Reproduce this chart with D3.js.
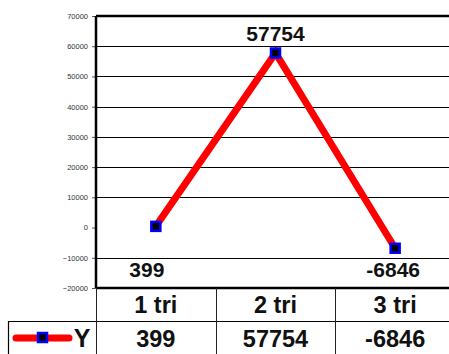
<!DOCTYPE html>
<html>
<head>
<meta charset="utf-8">
<script src="https://cdn.jsdelivr.net/npm/d3@7"></script>
<style>
  body { margin: 0; background: #fff; }
  svg { display: block; }
</style>
</head>
<body>
<div id="chart"></div>
<script>
// data
var categories = ["1 tri", "2 tri", "3 tri"];
var values = [399, 57754, -6846];
var seriesName = "Y";
var yTicks = [-20000, -10000, 0, 10000, 20000, 30000, 40000, 50000, 60000, 70000];

// dimensions
var svgWidth = 449, svgHeight = 354;
var margin = { top: 16, left: 96 };
var plotRight = 455;           // plot runs past the right edge, like the source
var plotBottom = 288;
var rowH = 33;
var font = "Arial, Liberation Sans, sans-serif";

var svg = d3.select("#chart")
  .append("svg")
    .attr("width", svgWidth)
    .attr("height", svgHeight);

var x = d3.scaleBand()
  .domain(categories)
  .range([margin.left, plotRight]);

var y = d3.scaleLinear()
  .domain([-20000, 70000])
  .range([plotBottom, margin.top]);

// gridlines
svg.append("g")
  .selectAll("line")
  .data(yTicks.filter(d => d > -20000 && d < 70000 && d != 0))
  .enter().append("line")
    .attr("x1", margin.left).attr("x2", plotRight)
    .attr("y1", d => Math.round(y(d)) + 0.5).attr("y2", d => Math.round(y(d)) + 0.5)
    .attr("stroke", "#000").attr("stroke-width", 1);

// y axis
var yAxis = svg.append("g")
  .attr("transform", "translate(" + margin.left + ",0)")
  .call(d3.axisLeft(y).tickValues(yTicks).tickSize(4).tickPadding(4).tickFormat(d3.format("d")));
yAxis.select(".domain").remove();
yAxis.selectAll("text")
  .attr("font-family", font)
  .attr("font-size", 7.5)
  .attr("fill", "#333");
yAxis.selectAll(".tick line").attr("stroke", "#555");

// plot frame
svg.append("line")
  .attr("x1", margin.left).attr("x2", margin.left)
  .attr("y1", margin.top).attr("y2", plotBottom)
  .attr("stroke", "#000").attr("stroke-width", 2.5);
svg.append("line")
  .attr("x1", margin.left).attr("x2", plotRight)
  .attr("y1", margin.top).attr("y2", margin.top)
  .attr("stroke", "#000").attr("stroke-width", 2.5);
svg.append("line")
  .attr("x1", margin.left).attr("x2", plotRight)
  .attr("y1", plotBottom).attr("y2", plotBottom)
  .attr("stroke", "#000").attr("stroke-width", 2.5);

// line
var cx = d => x.bandwidth() / 2 + x(d);
svg.append("path")
  .datum(values)
  .attr("d", d3.line()
    .x((d, i) => cx(categories[i]))
    .y(d => y(d)))
  .attr("fill", "none")
  .attr("stroke", "#ff0000")
  .attr("stroke-width", 7)
  .attr("stroke-linejoin", "miter");

// markers
svg.selectAll(".marker")
  .data(values)
  .enter().append("rect")
    .attr("class", "marker")
    .attr("x", (d, i) => cx(categories[i]) - 4.5)
    .attr("y", d => y(d) - 4.5)
    .attr("width", 9).attr("height", 9)
    .attr("fill", "#000")
    .attr("stroke", "#0000ff")
    .attr("stroke-width", 2.5);

// data labels: big value above its point, the others along the plot bottom
svg.selectAll(".dlabel")
  .data(values)
  .enter().append("text")
    .attr("class", "dlabel")
    .attr("x", (d, i) => cx(categories[i]) + (d > 30000 ? 0 : (d < 0 ? -2 : -9)))
    .attr("y", d => d > 30000 ? y(d) - 12 : y(-16500))
    .attr("text-anchor", "middle")
    .attr("font-family", font)
    .attr("font-weight", "bold")
    .attr("font-size", 21)
    .attr("fill", "#111")
    .text(d => d);

// data table
var tableTop = plotBottom;
var legendLeft = 8;
var table = svg.append("g");

// horizontal rules
table.append("line")
  .attr("x1", legendLeft).attr("x2", plotRight)
  .attr("y1", tableTop + rowH + 0.5).attr("y2", tableTop + rowH + 0.5)
  .attr("stroke", "#000").attr("stroke-width", 1.2);
// vertical rules
table.selectAll(".vrule")
  .data(categories)
  .enter().append("line")
    .attr("class", "vrule")
    .attr("x1", d => Math.round(x(d)) + 0.5).attr("x2", d => Math.round(x(d)) + 0.5)
    .attr("y1", tableTop).attr("y2", svgHeight)
    .attr("stroke", "#222").attr("stroke-width", 1);
table.append("line")
  .attr("x1", legendLeft + 0.5).attr("x2", legendLeft + 0.5)
  .attr("y1", tableTop + rowH).attr("y2", svgHeight)
  .attr("stroke", "#000").attr("stroke-width", 1.2);

// header row
table.selectAll(".hdr")
  .data(categories)
  .enter().append("text")
    .attr("class", "hdr")
    .attr("x", d => cx(d))
    .attr("y", tableTop + 25)
    .attr("text-anchor", "middle")
    .attr("font-family", font)
    .attr("font-weight", "bold")
    .attr("font-size", 23.5)
    .attr("fill", "#111")
    .text(d => d);

// value row
table.selectAll(".val")
  .data(values)
  .enter().append("text")
    .attr("class", "val")
    .attr("x", (d, i) => cx(categories[i]))
    .attr("y", tableTop + rowH + 26)
    .attr("text-anchor", "middle")
    .attr("font-family", font)
    .attr("font-weight", "bold")
    .attr("font-size", 23.5)
    .attr("fill", "#111")
    .text(d => d);

// legend key
var ly = tableTop + rowH + 17;
table.append("line")
  .attr("x1", 16).attr("x2", 69)
  .attr("y1", ly).attr("y2", ly)
  .attr("stroke", "#ff0000").attr("stroke-width", 7)
  .attr("stroke-linecap", "round");
table.append("rect")
  .attr("x", 38).attr("y", ly - 5)
  .attr("width", 9).attr("height", 9)
  .attr("fill", "#000").attr("stroke", "#0000ff").attr("stroke-width", 2.5);
table.append("text")
  .attr("x", 82)
  .attr("y", ly + 9)
  .attr("text-anchor", "middle")
  .attr("font-family", font)
  .attr("font-weight", "bold")
  .attr("font-size", 25)
  .attr("fill", "#111")
  .text(seriesName);
</script>
</body>
</html>
